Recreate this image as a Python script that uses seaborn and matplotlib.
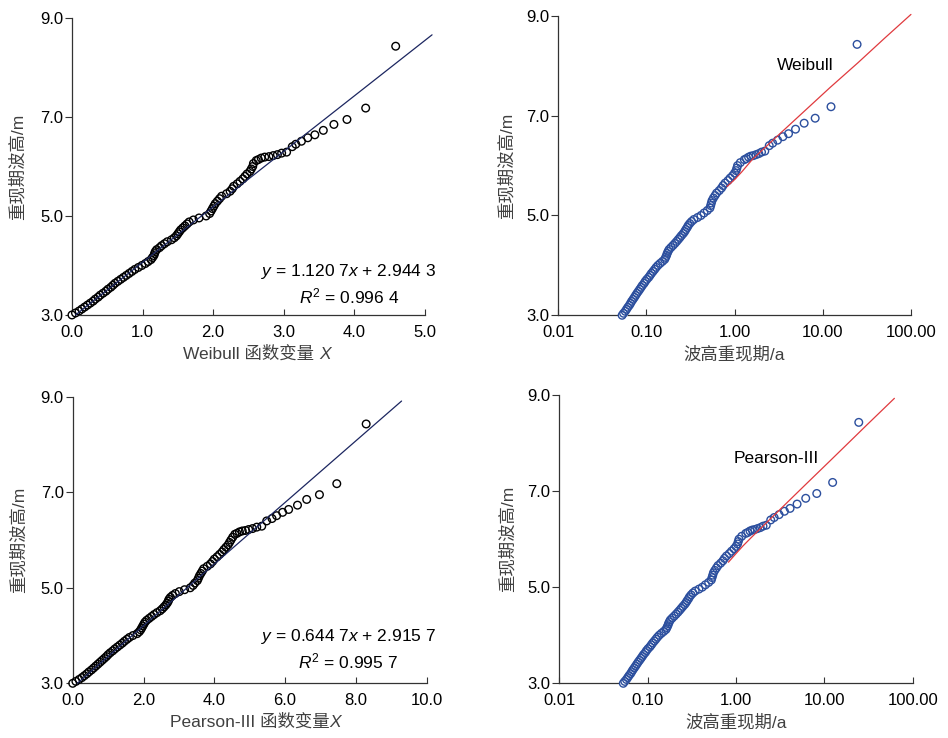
import matplotlib
matplotlib.use('Agg')
import matplotlib.pyplot as plt
from matplotlib.ticker import NullLocator
import numpy as np
import pandas as pd
import seaborn as sns

sns.set_theme(style='ticks')
plt.rcParams['font.family'] = ['Liberation Sans', 'Noto Sans CJK SC']
plt.rcParams['mathtext.fontset'] = 'custom'
plt.rcParams['mathtext.rm'] = 'Liberation Sans'
plt.rcParams['mathtext.it'] = 'Liberation Sans:italic'
plt.rcParams['axes.unicode_minus'] = False

# wave heights (m), largest first
heights = [8.43, 7.18, 6.95, 6.85, 6.73, 6.64, 6.58, 6.51, 6.45, 6.40,
           6.29, 6.27, 6.24, 6.22, 6.20, 6.19, 6.17, 6.14, 6.12, 6.06,
           6.00, 5.95, 5.90, 5.85, 5.80, 5.75, 5.70, 5.65, 5.60, 5.55,
           5.50, 5.45, 5.40, 5.35, 5.30, 5.25, 5.20, 5.15, 5.10, 5.05,
           5.00,
           4.96, 4.92, 4.88, 4.84, 4.80, 4.76, 4.72, 4.68, 4.64, 4.60,
           4.56, 4.52, 4.48, 4.44, 4.40, 4.36, 4.32, 4.28, 4.24, 4.20,
           4.16, 4.12, 4.08, 4.04, 4.00, 3.96, 3.92, 3.88, 3.84, 3.80,
           3.76, 3.72, 3.68, 3.64, 3.60, 3.56, 3.52, 3.48, 3.44, 3.40,
           3.36, 3.32, 3.28, 3.24, 3.20, 3.16, 3.12, 3.08, 3.04, 3.00]

# Weibull variable X
weibullX = [4.585, 4.16, 3.895, 3.71, 3.56, 3.44, 3.34, 3.25, 3.17, 3.12,
            3.04, 2.97, 2.91, 2.85, 2.79, 2.73, 2.68, 2.64, 2.61, 2.57,
            2.56, 2.54, 2.52, 2.48, 2.45, 2.42, 2.38, 2.34, 2.29, 2.27,
            2.24, 2.19, 2.12, 2.09, 2.06, 2.03, 2.01, 1.99, 1.97, 1.95,
            1.90,
            1.80, 1.72, 1.66, 1.63, 1.60, 1.57, 1.54, 1.52, 1.50, 1.48,
            1.45, 1.41, 1.35, 1.31, 1.27, 1.24, 1.20, 1.18, 1.17, 1.16,
            1.14, 1.12, 1.08, 1.04, 0.99, 0.94, 0.89, 0.85, 0.81, 0.77,
            0.73, 0.69, 0.65, 0.61, 0.58, 0.55, 0.51, 0.48, 0.44, 0.40,
            0.37, 0.33, 0.30, 0.26, 0.22, 0.18, 0.14, 0.10, 0.05, 0.00]

# Pearson-III variable X
pearsonX = [8.29, 7.46, 6.97, 6.61, 6.35, 6.10, 5.93, 5.76, 5.63, 5.48,
            5.34, 5.20, 5.08, 4.97, 4.88, 4.79, 4.71, 4.64, 4.58, 4.52,
            4.47, 4.43, 4.39, 4.33, 4.27, 4.22, 4.15, 4.08, 4.00, 3.95,
            3.89, 3.80, 3.70, 3.66, 3.62, 3.58, 3.55, 3.52, 3.45, 3.40,
            3.32,
            3.16, 3.01, 2.90, 2.82, 2.76, 2.72, 2.70, 2.67, 2.63, 2.58,
            2.53, 2.47, 2.38, 2.30, 2.23, 2.16, 2.09, 2.04, 2.01, 1.98,
            1.95, 1.92, 1.88, 1.82, 1.70, 1.60, 1.53, 1.46, 1.40, 1.33,
            1.26, 1.19, 1.13, 1.06, 1.00, 0.95, 0.89, 0.83, 0.77, 0.71,
            0.65, 0.59, 0.53, 0.46, 0.40, 0.33, 0.26, 0.18, 0.09, 0.00]

# return period (a)
returnPeriod = [24.5, 12.4, 8.2, 6.15, 4.91, 4.09, 3.53, 3.07, 2.70, 2.47,
                2.20, 2.02, 1.88, 1.75, 1.63, 1.53, 1.44, 1.36, 1.29, 1.16,
                1.08, 1.06, 1.04, 1.00, 0.95, 0.89, 0.84, 0.78, 0.74, 0.71,
                0.67, 0.625, 0.60, 0.575, 0.555, 0.545, 0.535, 0.525, 0.49, 0.45,
                0.415,
                0.38, 0.345, 0.325, 0.31, 0.298, 0.29, 0.28, 0.272, 0.262, 0.25,
                0.24, 0.23, 0.22, 0.21, 0.20, 0.19, 0.181, 0.176, 0.172, 0.169,
                0.165, 0.161, 0.152, 0.143, 0.135, 0.129, 0.124, 0.119, 0.114, 0.110,
                0.106, 0.101, 0.097, 0.094, 0.090, 0.087, 0.084, 0.081, 0.078, 0.0755,
                0.073, 0.0705, 0.068, 0.066, 0.064, 0.0615, 0.0595, 0.0575, 0.055, 0.053]

# regression lines (endpoints)
weibullLineX = [0.05, 5.1]
weibullLineH = [3.0, 8.66]
pearsonLineX = [0.13, 9.29]
pearsonLineH = [3.0, 8.91]

# fitted curves on the return-period panels
weibullFitT = [0.82, 1.0, 1.2, 1.6, 3.0, 6.0, 12.0, 25.0, 50.0, 100.0]
weibullFitH = [5.58, 5.72, 5.87, 6.13, 6.58, 7.07, 7.56, 8.06, 8.55, 9.03]
pearsonFitT = [0.82, 1.0, 1.2, 1.5, 3.0, 6.0, 11.6, 30.0, 62.0]
pearsonFitH = [5.52, 5.70, 5.86, 6.04, 6.58, 7.12, 7.63, 8.37, 8.93]

df = pd.DataFrame({'H': heights, 'WX': weibullX, 'PX': pearsonX, 'T': returnPeriod})

labelColor = '#404040'
lineBlue = '#1c2660'
pointBlue = '#2c4f9e'
fitRed = '#e03a3e'
markerSize = 30


def circles(ax, xCol, edge):
    # white fill first, then open rings on top so the dense run reads as a solid band
    sns.scatterplot(data=df, x=xCol, y='H', ax=ax, s=markerSize, color='white',
                    linewidth=0, clip_on=False, zorder=3, legend=False)
    sns.scatterplot(data=df, x=xCol, y='H', ax=ax, s=markerSize, facecolor='none',
                    edgecolor=edge, linewidth=1.0, clip_on=False, zorder=3.5, legend=False)


def styleAxis(ax, ylabelPad):
    sns.despine(ax=ax)
    for s in ['left', 'bottom']:
        ax.spines[s].set_color('#333333')
        ax.spines[s].set_linewidth(0.9)
    ax.set_ylim(3, 9)
    ax.set_yticks([3, 5, 7, 9])
    ax.set_yticklabels(['3.0', '5.0', '7.0', '9.0'])
    ax.tick_params(axis='y', direction='out', length=5, width=0.8, pad=1.5,
                   labelsize=12, colors='#333333', labelcolor='black')
    ax.tick_params(axis='x', direction='in', length=4.5, width=0.8, pad=7,
                   labelsize=12, colors='#333333', labelcolor='black')
    ax.set_ylabel('重现期波高/m', fontsize=12.5, color=labelColor, labelpad=ylabelPad)
    ax.set_facecolor('white')


def labelWithX(ax, text, gap):
    lab = ax.set_xlabel(text, fontsize=12.5, color=labelColor, labelpad=4)
    ax.annotate('X', xy=(1, 0), xycoords=lab, xytext=(gap, 0), textcoords='offset points',
                ha='left', va='bottom', fontsize=12.5, style='italic', color=labelColor)


def qqPanel(ax, xCol, lineX, lineH, xmax, xticks, eq, r2, textX, textY1, textY2, label, gap):
    circles(ax, xCol, 'black')
    sns.lineplot(x=lineX, y=lineH, ax=ax, color=lineBlue, linewidth=0.9,
                 clip_on=False, zorder=4, sort=False, estimator=None)
    ax.set_xlim(0, xmax)
    ax.set_xticks(xticks)
    ax.set_xticklabels([f'{t:.1f}' for t in xticks])
    styleAxis(ax, 10)
    labelWithX(ax, label, gap)
    ax.text(textX, textY1, eq, ha='center', va='center', fontsize=12.5, color='black')
    ax.text(textX, textY2, r2, ha='center', va='center', fontsize=12.5, color='black')


def periodPanel(ax, fitT, fitH, name, nameT, nameH):
    ax.set_xscale('log')
    circles(ax, 'T', pointBlue)
    sns.lineplot(x=fitT, y=fitH, ax=ax, color=fitRed, linewidth=0.9,
                 clip_on=False, zorder=4, sort=False, estimator=None)
    ax.set_xlim(0.01, 100)
    ax.set_xticks([0.01, 0.1, 1, 10, 100])
    ax.set_xticklabels(['0.01', '0.10', '1.00', '10.00', '100.00'])
    ax.xaxis.set_minor_locator(NullLocator())
    styleAxis(ax, 8.5)
    ax.set_xlabel('波高重现期/a', fontsize=12.5, color=labelColor, labelpad=4)
    ax.text(nameT, nameH, name, ha='center', va='center', fontsize=12.5, color='black')


fig = plt.figure(figsize=(9.48, 7.38), dpi=100)
fig.patch.set_facecolor('white')

ax1 = fig.add_axes([0.0759, 0.5732, 0.3724, 0.4024])
ax2 = fig.add_axes([0.5889, 0.5728, 0.3720, 0.4056])
ax3 = fig.add_axes([0.0767, 0.0741, 0.3734, 0.3883])
ax4 = fig.add_axes([0.5900, 0.0741, 0.3728, 0.3907])

qqPanel(ax1, 'WX', weibullLineX, weibullLineH, 5.0, [0, 1, 2, 3, 4, 5],
        r'$y$ = 1.120 7$x$ + 2.944 3', r'$R^2$ = 0.996 4',
        3.92, 3.875, 3.38, 'Weibull 函数变量', 3.5)
qqPanel(ax3, 'PX', pearsonLineX, pearsonLineH, 10.0, [0, 2, 4, 6, 8, 10],
        r'$y$ = 0.644 7$x$ + 2.915 7', r'$R^2$ = 0.995 7',
        7.78, 3.98, 3.45, 'Pearson-III 函数变量', 0)
periodPanel(ax2, weibullFitT, weibullFitH, 'Weibull', 6.27, 8.0)
periodPanel(ax4, pearsonFitT, pearsonFitH, 'Pearson-III', 2.84, 7.67)

fig.savefig('out.png', dpi=100, facecolor='white')
